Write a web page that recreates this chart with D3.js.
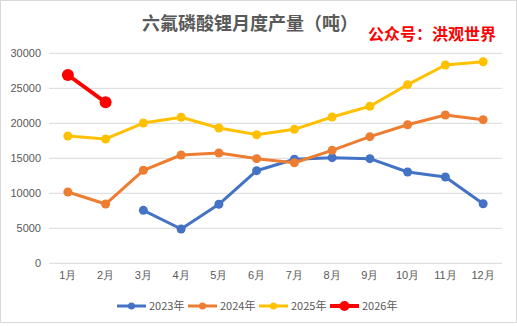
<!DOCTYPE html>
<html><head><meta charset="utf-8">
<script src="https://cdn.jsdelivr.net/npm/d3@7"></script>
<style>body{margin:0;background:#fff;}svg{display:block;font-family:"Noto Sans CJK SC","Noto Sans",sans-serif;}</style>
</head><body><svg id="c" width="517" height="326"></svg>
<script>
const months = ["1月","2月","3月","4月","5月","6月","7月","8月","9月","10月","11月","12月"];
const s2023 = [null,null,7570,4900,8430,13230,14860,15090,14950,13040,12330,8510];
const s2024 = [10190,8470,13290,15470,15760,14950,14370,16140,18090,19800,21190,20520];
const s2025 = [18190,17760,20040,20860,19330,18370,19140,20900,22430,25520,28330,28800];
const s2026 = [26900,23000,null,null,null,null,null,null,null,null,null,null];
const yTicks = [0,5000,10000,15000,20000,25000,30000];
const seriesNames = ["2023年","2024年","2025年","2026年"];
const colors = ["#4472C4","#ED7D31","#FFC000","#FF0000"];
const seriesData = [s2023,s2024,s2025,s2026];

const svg = d3.select("#c");
svg.append("rect").attr("x",0.5).attr("y",0.5).attr("width",516).attr("height",322).attr("fill","#fff").attr("stroke","#d9d9d9");

const x = d3.scaleBand().domain(months).range([49,502]);
const y = d3.scaleLinear().domain([0,30000]).range([263.3,53.3]);

svg.append("g").selectAll("line").data(yTicks).join("line")
  .attr("x1",49).attr("x2",502).attr("y1",d=>y(d)).attr("y2",d=>y(d))
  .attr("stroke","#d9d9d9").attr("stroke-width",1);

const yAxis = svg.append("g").attr("transform","translate(49,0)")
  .call(d3.axisLeft(y).tickValues(yTicks).tickSize(0).tickPadding(8).tickFormat(d3.format("d")));
yAxis.select(".domain").remove();
yAxis.selectAll("text").attr("fill","#595959").attr("font-size",11);

const xAxis = svg.append("g").attr("transform","translate(0,263.3)")
  .call(d3.axisBottom(x).tickSize(0).tickPadding(8));
xAxis.select(".domain").remove();
xAxis.selectAll("text").attr("fill","#595959").attr("font-size",11);

const line = d3.line().defined(d=>d!=null).x((d,i)=>x(months[i])+x.bandwidth()/2).y(d=>y(d));
seriesData.forEach((s,k)=>{
  const big = k===3;
  svg.append("path").datum(s).attr("d",line).attr("fill","none")
    .attr("stroke",colors[k]).attr("stroke-width",big?4:3).attr("stroke-linejoin","round");
  svg.append("g").selectAll("circle").data(s.map((v,i)=>({v,i})).filter(d=>d.v!=null)).join("circle")
    .attr("cx",d=>x(months[d.i])+x.bandwidth()/2).attr("cy",d=>y(d.v))
    .attr("r",big?6:4.5).attr("fill",colors[k]);
});

svg.append("text").attr("x",250).attr("y",30).attr("text-anchor","middle")
  .attr("font-size",18).attr("font-weight","bold").attr("fill","#595959").text("六氟磷酸锂月度产量（吨）");
svg.append("text").attr("x",368).attr("y",40).attr("font-size",16).attr("font-weight","bold")
  .attr("fill","#FF0000").text("公众号：洪观世界");

const lx = [117,188,259,330];
const leg = svg.append("g");
seriesNames.forEach((n,k)=>{
  const g = leg.append("g").attr("transform",`translate(${lx[k]},306)`);
  g.append("line").attr("x1",0).attr("x2",29).attr("stroke",colors[k]).attr("stroke-width",k===3?4:3);
  g.append("circle").attr("cx",14.5).attr("r",k===3?5:3.5).attr("fill",colors[k]);
  g.append("text").attr("x",32).attr("y",4).attr("font-size",11).attr("fill","#595959").text(n);
});
</script></body></html>
